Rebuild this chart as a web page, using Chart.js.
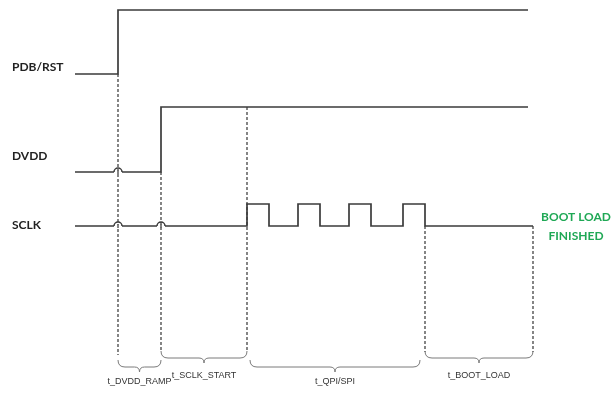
<!DOCTYPE html>
<html>
<head>
<meta charset="utf-8">
<script src="https://cdn.jsdelivr.net/npm/chart.js@4"></script>
<style>
  html, body { margin: 0; padding: 0; background: #fff; }
  #timing { display: block; }
</style>
</head>
<body>
<canvas id="timing" width="613" height="393"></canvas>
<script>
// signal names and transitions (time, logic level)
const signalNames = ['PDB/RST', 'DVDD', 'SCLK'];
const pdbTimes = [75, 118, 528];
const pdbLevels = [0, 1, 1];
const dvddTimes = [75, 161, 528];
const dvddLevels = [0, 1, 1];
const sclkTimes = [75, 247, 269, 298, 320, 349, 371, 403, 425, 533];
const sclkLevels = [0, 1, 0, 1, 0, 1, 0, 1, 0, 0];

// dashed reference markers and the timing intervals between them
const markerTimes = [118, 161, 247, 425, 533];
const intervalNames = ['t_DVDD_RAMP', 't_SCLK_START', 't_QPI/SPI', 't_BOOT_LOAD'];
const intervalStart = [118, 161, 250, 425];
const intervalEnd = [161, 247, 420, 533];
const doneText = ['BOOT LOAD', 'FINISHED'];

// layout (y in canvas units, scale is reversed)
const rowBase = [74, 172, 226];
const rowSwing = [64, 65, 22];
const markerTop = [74, 172, 107, 226, 226];
const markerBottom = [355, 352, 352, 352, 352];
const braceY = [367, 358, 367, 358];
const braceLabelY = [382, 376, 382, 376];

const lineColor = '#3b3b3b';
const dashColor = '#444';

function wave(times, levels, row) {
    return times.map((t, i) => ({ x: t, y: rowBase[row] - levels[i] * rowSwing[row] }));
}

const datasets = [];
[[pdbTimes, pdbLevels], [dvddTimes, dvddLevels], [sclkTimes, sclkLevels]].forEach((s, i) => {
    datasets.push({
        label: signalNames[i],
        data: wave(s[0], s[1], i),
        stepped: 'before',
        borderColor: lineColor,
        borderWidth: 1.7,
        pointRadius: 0,
        fill: false
    });
});
markerTimes.forEach((t, i) => {
    datasets.push({
        label: 'marker' + i,
        data: [{ x: t, y: markerTop[i] }, { x: t, y: markerBottom[i] }],
        borderColor: dashColor,
        borderWidth: 1.3,
        borderDash: [3, 2],
        pointRadius: 0,
        fill: false
    });
});

// hops where a dashed marker passes under a low signal line
const hops = [[118, 1], [118, 2], [161, 2]];

const annotate = {
    id: 'annotate',
    afterDatasetsDraw(chart) {
        const ctx = chart.ctx;
        const x = chart.scales.x, y = chart.scales.y;
        ctx.save();

        // line hops
        hops.forEach(h => {
            const px = x.getPixelForValue(h[0]);
            const py = y.getPixelForValue(rowBase[h[1]]);
            ctx.fillStyle = '#fff';
            ctx.fillRect(px - 4, py - 1.5, 8, 3);
            ctx.strokeStyle = dashColor;
            ctx.lineWidth = 1.3;
            ctx.beginPath();
            ctx.moveTo(px, py - 2);
            ctx.lineTo(px, py + 2);
            ctx.stroke();
            ctx.strokeStyle = lineColor;
            ctx.lineWidth = 1.5;
            ctx.beginPath();
            ctx.arc(px, py, 4, Math.PI, 2 * Math.PI);
            ctx.stroke();
        });

        // braces
        ctx.strokeStyle = '#7a7a7a';
        ctx.lineWidth = 1;
        intervalNames.forEach((name, i) => {
            const x1 = x.getPixelForValue(intervalStart[i]);
            const x2 = x.getPixelForValue(intervalEnd[i]);
            const by = y.getPixelForValue(braceY[i]);
            const mid = (x1 + x2) / 2;
            ctx.beginPath();
            ctx.moveTo(x1, by - 7);
            ctx.quadraticCurveTo(x1, by, x1 + 7, by);
            ctx.lineTo(mid - 5, by);
            ctx.quadraticCurveTo(mid, by, mid, by + 5);
            ctx.quadraticCurveTo(mid, by, mid + 5, by);
            ctx.lineTo(x2 - 7, by);
            ctx.quadraticCurveTo(x2, by, x2, by - 7);
            ctx.stroke();

            ctx.fillStyle = '#333';
            ctx.font = '9px "Liberation Sans", Arial, sans-serif';
            ctx.textAlign = 'center';
            ctx.textBaseline = 'middle';
            ctx.fillText(name, mid, y.getPixelForValue(braceLabelY[i]));
        });

        // signal names
        ctx.fillStyle = '#222';
        ctx.font = 'bold 12px Lato, "Open Sans", sans-serif';
        ctx.textAlign = 'left';
        ctx.textBaseline = 'middle';
        const labelY = [67, 156, 225];
        signalNames.forEach((n, i) => {
            ctx.fillText(n, 12, labelY[i]);
        });

        // end note
        ctx.fillStyle = '#1fa855';
        ctx.font = 'bold 12px Lato, "Open Sans", sans-serif';
        ctx.textAlign = 'center';
        ctx.fillText(doneText[0], 576, 217);
        ctx.fillText(doneText[1], 576, 236);
        ctx.restore();
    }
};

new Chart(document.getElementById('timing').getContext('2d'), {
    type: 'line',
    data: { datasets: datasets },
    options: {
        responsive: false,
        animation: false,
        layout: { padding: 0 },
        plugins: { legend: { display: false }, tooltip: { enabled: false } },
        scales: {
            x: { type: 'linear', min: 0, max: 613, display: false },
            y: { type: 'linear', min: 0, max: 393, reverse: true, display: false }
        }
    },
    plugins: [annotate]
});
</script>
</body>
</html>
